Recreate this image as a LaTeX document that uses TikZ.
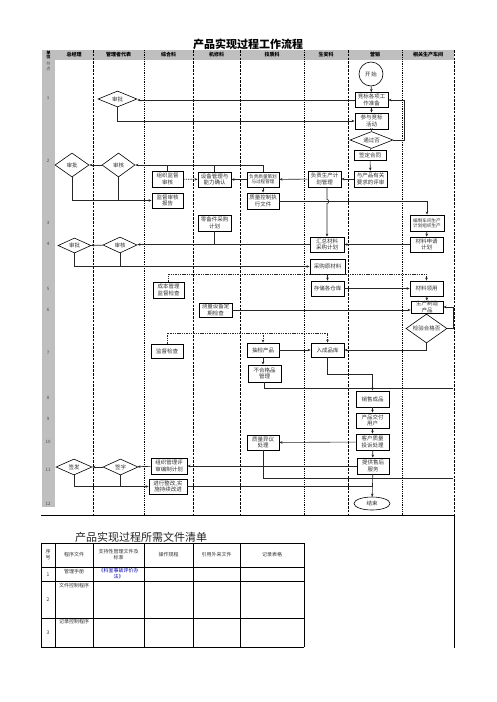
\documentclass[tikz,border=0pt]{standalone}
\usepackage{fontspec}
\setmainfont{Noto Sans CJK SC}
\usetikzlibrary{arrows.meta,shapes.geometric,calc}
\newcommand{\nf}{\fontsize{5.5}{6.3}\selectfont}
\newcommand{\smf}{\fontsize{4.6}{5.4}\selectfont}
\begin{document}
\begin{tikzpicture}[x=1pt,y=-1pt,
  box/.style={draw, line width=0.9pt, inner sep=0pt, align=center, font=\nf, text=black!80},
  sz/.style 2 args={minimum width=#1pt, minimum height=#2pt},
  dia/.style={diamond, draw, line width=0.6pt, inner sep=0pt, aspect=2, font=\nf, text=black!80},
  conn/.style={line width=0.6pt, draw=black!85},
  arr/.style={conn, -{Stealth[length=3pt,width=2.6pt]}},
  dsh/.style={line width=0.6pt, draw=black!85, dash pattern=on 1.4pt off 0.9pt},
  darr/.style={dsh, -{Stealth[length=3pt,width=2.6pt]}},
  cold/.style={line width=0.9pt, dash pattern=on 2.6pt off 1.2pt},
  colt/.style={line width=0.8pt, dash pattern=on 1pt off 0.8pt},
  hdr/.style={font=\fontsize{5}{6}\selectfont\bfseries, inner sep=0pt},
  rown/.style={font=\fontsize{4.5}{5}\selectfont, inner sep=0pt, text=black!70},
  tcell/.style={font=\fontsize{5}{6}\selectfont, inner sep=0pt, align=center, text=black!80}]
\useasboundingbox (0,0) rectangle (496,702);
\fill[white] (0,0) rectangle (496,702);
% title
\node[font=\fontsize{11}{13}\selectfont\bfseries, inner sep=0pt] (title) at (248,44) {产品实现过程工作流程};
% gray bands
\fill[black!25] (42,50) rectangle (454,60);
\fill[black!25] (42,50) rectangle (55,507);
% column dividers
\foreach \xx in {93,193,240,348}{\draw[cold] (\xx,50) -- (\xx,515);}
\foreach \xx in {144,304,402}{\draw[colt] (\xx,50) -- (\xx,515);}
\draw[cold] (454,50) -- (454,515);
\draw[line width=0.8pt] (454,515) -- (454,648);
\draw[line width=0.9pt] (41,515) -- (454,515);
% headers
\node[hdr, align=center, font=\fontsize{4.2}{4.6}\selectfont\bfseries] (h0) at (48.5,55) {单\\位};
\node[rown, align=center, font=\fontsize{4.2}{4.8}\selectfont] (h0b) at (48.5,66) {节\\点};
\node[hdr] (h1) at (74,55) {总经理};
\node[hdr] (h2) at (118.5,55) {管理者代表};
\node[hdr] (h3) at (168.5,55) {综合科};
\node[hdr] (h4) at (216.5,55) {机修科};
\node[hdr] (h5) at (272,55) {技质科};
\node[hdr] (h6) at (326,55) {生安科};
\node[hdr] (h7) at (375,55) {营销};
\node[hdr] (h8) at (428,55) {相关生产车间};
% row numbers
\foreach \n/\yy in {1/98,2/161,3/223,4/244,5/289,6/310,7/353,8/398,9/419,10/442,11/470,12/504}{
  \node[rown] (r\n) at (48,\yy) {\n};}
% ---- nodes: 营销 column
\node[circle, draw, line width=0.6pt, minimum size=24pt, inner sep=0pt, font=\nf, text=black!80] (start) at (371,74) {开\,始};
\node[box, sz={33}{15}] (jb) at (371.5,100) {竞标各项工\\作准备};
\node[box, sz={33}{16}] (cy) at (371.5,121) {参与竞标\\活动};
\node[dia, minimum width=43pt, minimum height=17pt] (tg) at (371.5,140) {通过否};
\node[box, sz={32}{10}] (qd) at (370,155.5) {签定合同};
\node[box, sz={33}{16}] (ps) at (370.5,179) {与产品有关\\要求的评审};
\node[box, sz={33}{16}] (xs) at (372.5,399) {销售成品};
\node[box, sz={33}{15}] (jf) at (372.5,420.5) {产品交付\\用户};
\node[box, sz={33}{16}] (ts) at (372.5,442) {客户质量\\投诉处理};
\node[box, sz={32}{16}] (fw) at (373,466) {提供售后\\服务};
\node[ellipse, draw, line width=0.6pt, minimum width=36pt, minimum height=13pt, inner sep=0pt, font=\nf, text=black!80] (end) at (372,503.5) {结束};
% 生安科
\node[box, sz={33}{16}] (sc) at (324.5,179) {负责生产计\\划管理};
\node[box, sz={34}{15}] (hz) at (327,244.5) {汇总材料\\采购计划};
\node[box, sz={35}{15}] (cg) at (327.5,266.5) {采购原材料};
\node[box, sz={33}{15}] (cc) at (327.5,288.5) {存储各仓库};
\node[box, sz={33}{14}] (rk) at (327.5,350) {入成品库};
% 技质科
\node[box, sz={32}{15}, font=\smf] (zc) at (263,179.5) {负责质量策划\\与过程管理};
\node[box, sz={32}{16}] (zk) at (263,201) {质量控制执\\行文件};
\node[box, sz={32}{14}] (cj) at (263,350) {抽检产品};
\node[box, sz={33}{17}] (bh) at (264.5,373.5) {不合格品\\管理};
\node[box, sz={32}{15}] (yy) at (263,442.5) {质量异议\\处理};
% 相关生产车间
\node[box, sz={34}{16}, font=\smf] (bz) at (427,223) {编制车间生产\\计划组织生产};
\node[box, sz={33}{15}] (cl) at (426.5,244.5) {材料申请\\计划};
\node[box, sz={33}{15}] (ly) at (426.5,288.5) {材料领用};
\node[box, sz={32}{12}] (zz) at (427,307) {生产制造\\产品};
\node[dia, minimum width=41pt, minimum height=29pt] (jy) at (426.5,328.5) {检验合\\格否};
% 机修科
\node[box, sz={33}{15}] (sb) at (214.5,179.5) {设备管理与\\能力确认};
\node[box, sz={33}{16}] (lb) at (214.5,223) {零备件采购\\计划};
\node[box, sz={33}{14}] (ce) at (215.5,310) {测量设备定\\期检查};
% 综合科
\node[box, sz={31}{16}] (zj) at (167.5,179) {组织监督\\审核};
\node[box, sz={31}{15}] (bg) at (167.5,200.5) {监督审核\\报告};
\node[box, sz={31}{16}] (cb) at (168.5,290) {成本管理\\监督检查};
\node[box, sz={32}{14}] (jd) at (167,351) {监督检查};
\node[box, sz={36}{16}] (pj) at (169,466) {组织管理评\\审编制计划};
\node[box, sz={38}{15}] (zg) at (168,486.5) {进行整改,实\\施持续改进};
% 管理者代表 / 总经理
\node[dia, minimum width=39pt, minimum height=16pt] (sp1) at (117.5,99) {审批};
\node[dia, minimum width=34pt, minimum height=24pt] (sp2) at (72,165) {审批};
\node[dia, minimum width=33pt, minimum height=24pt] (sh2) at (118.5,165) {审核};
\node[dia, minimum width=33pt, minimum height=15pt] (sp4) at (74.5,245.5) {审批};
\node[dia, minimum width=34pt, minimum height=16pt] (sh4) at (120,245) {审核};
\node[dia, minimum width=36pt, minimum height=16pt] (qf) at (74,467) {签发};
\node[dia, minimum width=35pt, minimum height=16pt] (qz) at (120.5,467) {签字};
% ---- connectors
\draw[arr] (start) -- (jb);
\draw[arr] (jb) -- (cy);
\draw[arr] (cy) -- (tg);
\draw[arr] (tg.east) -- ++(11,0) |- (jb.east);
\draw[conn] (tg) -- (qd);
\draw[arr] (qd) -- (ps);
\draw[arr] (ps) -- (sc);
\draw[arr] (sc) -- (zc);
\draw[arr] (zc) -- (zk);
\draw[arr] (zk.east) -| (bz.north);
\draw[arr] (sc.south -| hz.north) -- ++(0,12) arc[start angle=-90, end angle=90, radius=2] -- (hz.north);
\draw[arr] (bz) -- (cl);
\draw[arr] (cl) -- (hz);
\draw[arr] (hz.west) -- (hz.west -| sh4.east);
\draw[conn] (lb.south) -- (lb.south |- hz.west);
\draw[arr] (sh4) -- (sp4);
\draw[arr] (sp4.south) |- (cg.west);
\draw[conn] (sh4.south) -- (sh4.south |- cg.west);
\draw[darr] (cb.north) |- (cg.south -| ly.north) -- (ly.north);
\draw[arr] (cg) -- (cc);
\draw[arr] (cc) -- (ly);
\draw[arr] (ly) -- (zz);
\draw[arr] (ce.east) -- (ce.east -| zz.west);
\draw[arr] (jy.east) -- ++(5.5,0) |- (zz.east);
\draw[arr] (jy.south) |- (rk.east);
\coordinate (dd) at (327.5,333);
\draw[darr] (jd.north) |- (dd) -- (rk.north);
\draw[darr] (cj.north |- dd) -- (cj.north);
\draw[arr] (cj) -- (rk);
\draw[arr] (cj.south) -- (cj.south |- bh.north);
\draw[arr] (rk.south) -- ++(0,17) -| (xs.north);
\coordinate (e1) at (452.5,388);
\draw[conn] (bh.south) |- (e1);
\draw[arr] (xs) -- (jf);
\draw[arr] (jf) -- (ts);
\draw[arr] (ts) -- (fw);
\draw[arr] (ts) -- (yy);
\coordinate (e2) at (452.5,478);
\draw[conn] (yy.south) |- (e2);
\draw[arr] (fw) -- (end);
\draw[arr] (fw) -- (pj);
\draw[arr] (pj) -- (qz);
\draw[arr] (qz) -- (qf);
\draw[arr] (qf.south) |- (zg.west);
\draw[conn] (qz.south) -- (qz.south |- zg.west);
\draw[conn] (zg.east) -- (zg.east -| fw.south);
\draw[arr] (jb.west) -- (jb.west -| sp1.east);
\draw[arr] (sp1.south) |- (cy.west);
\draw[arr] (zc.north) |- (sh2.east);
\draw[conn] (zj.north) -- (zj.north |- sh2.east);
\draw[conn] (sb.north) -- (sb.north |- sh2.east);
\draw[arr] (sh2) -- (sp2);
\draw[arr] (sp2.south) |- (bg.west);
\draw[conn] (sh2.south) -- (sh2.south |- bg.west);
\draw[darr] (zj) -- (sb);
\draw[arr] (zc) -- (sb);
% ---- document table
\node[font=\fontsize{11}{13}\selectfont, inner sep=0pt, text=black!85] (ttitle) at (141,537) {产品实现过程所需文件清单};
\foreach \yy in {543,567,581,618,647}{\draw[line width=0.8pt] (41,\yy) -- (304,\yy);}
\foreach \xx in {41,55,93,144,193,240,304}{\draw[line width=0.8pt] (\xx,543) -- (\xx,647);}
\node[tcell] (t1) at (48,555) {序\\号};
\node[tcell] (t2) at (74,555) {程序文件};
\node[tcell] (t3) at (118.5,555) {支持性管理文件及\\标准};
\node[tcell] (t4) at (168.5,555) {操作规程};
\node[tcell] (t5) at (216.5,555) {引用外来文件};
\node[tcell] (t6) at (272,555) {记录表格};
\node[tcell] (a1) at (48,574.5) {1};
\node[tcell] (a2) at (74,572) {管理手册};
\node[tcell, text=blue!70!black] (a3) at (118.5,574) {《科室事故评价办\\法》};
\node[tcell] (b1) at (48,600) {2};
\node[tcell] (b2) at (74,586) {文件控制程序};
\node[tcell] (c1) at (48,633) {3};
\node[tcell] (c2) at (74,622) {记录控制程序};
\end{tikzpicture}
\end{document}
